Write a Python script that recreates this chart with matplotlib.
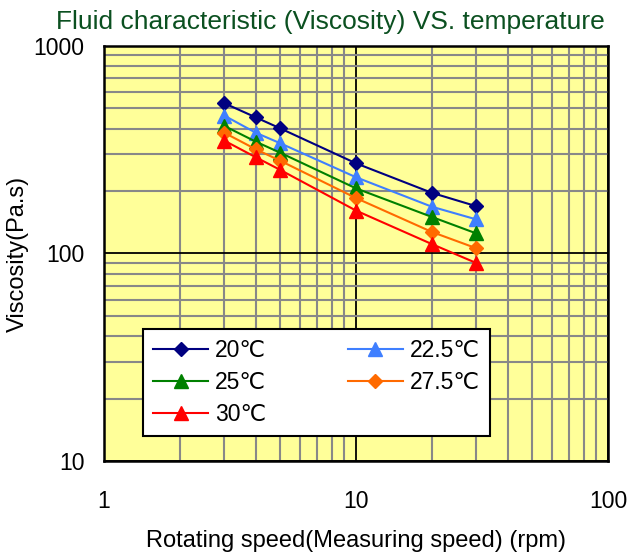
import numpy as np
import matplotlib.pyplot as plt
from matplotlib.ticker import LogLocator, NullFormatter, FixedLocator

plt.rcParams['font.family'] = ['Liberation Sans', 'DejaVu Sans']

# rotating speed (rpm)
speed = [3, 4, 5, 10, 20, 30]

# viscosity (Pa.s) per temperature
visc_20 = [530, 453, 401, 272, 196, 169]
visc_225 = [462, 382, 340, 233, 168, 146]
visc_25 = [412, 346, 306, 206, 150, 125]
visc_275 = [382, 318, 280, 185, 127, 106]
visc_30 = [350, 291, 253, 161, 111, 90]

labels = ['20℃', '22.5℃', '25℃', '27.5℃', '30℃']
series = [visc_20, visc_225, visc_25, visc_275, visc_30]
colors = ['#000080', '#3F7FFF', '#008000', '#FF6A00', '#FF0000']
markers = ['D', '^', '^', 'D', '^']

fig = plt.figure(figsize=(6.29, 5.56), dpi=100)
ax = fig.add_axes([0.1653, 0.1709, 0.8013, 0.7464])
ax.set_facecolor('#FFFF99')

lines = []
for vals, lab, c, m in zip(series, labels, colors, markers):
    ms = 7.5 if m == 'D' else 9.5
    ln, = ax.plot(speed, vals, color=c, marker=m, markersize=ms, linewidth=1.5,
                  label=lab, zorder=3)
    lines.append(ln)

ax.set_xscale('log')
ax.set_yscale('log')
ax.set_xlim(1, 100)
ax.set_ylim(10, 1000)

ax.xaxis.set_major_locator(FixedLocator([1, 10, 100]))
ax.yaxis.set_major_locator(FixedLocator([10, 100, 1000]))
ax.set_xticklabels(['1', '10', '100'])
ax.set_yticklabels(['10', '100', '1000'])
ax.xaxis.set_minor_locator(LogLocator(base=10, subs=np.arange(2, 10)))
ax.yaxis.set_minor_locator(LogLocator(base=10, subs=np.arange(2, 10)))
ax.xaxis.set_minor_formatter(NullFormatter())
ax.yaxis.set_minor_formatter(NullFormatter())

ax.grid(which='minor', color='#888888', linewidth=1.5, zorder=1)
ax.grid(which='major', color='black', linewidth=1.3, zorder=1)
ax.set_axisbelow(True)
ax.tick_params(which='both', length=0, labelsize=16.5)
ax.tick_params(axis='x', pad=21)
ax.tick_params(axis='y', pad=14)
for s in ax.spines.values():
    s.set_linewidth(1.8)

ax.set_title('Fluid characteristic (Viscosity) VS. temperature',
             color='#0B5020', fontsize=19, pad=12, x=0.45)
ax.set_xlabel('Rotating speed(Measuring speed) (rpm)', fontsize=17, labelpad=12)
ax.set_ylabel('Viscosity(Pa.s)', fontsize=17, labelpad=3)

# row-major order in the legend: 20, 22.5 / 25, 27.5 / 30
order = [0, 2, 4, 1, 3]
leg = ax.legend([lines[i] for i in order], [labels[i] for i in order],
                ncol=2, loc='lower left', bbox_to_anchor=(0.077, 0.060, 0.689, 0.25),
                mode='expand', fontsize=16.5, frameon=True, fancybox=False,
                edgecolor='black', framealpha=1, handlelength=2.4,
                borderpad=0.45, labelspacing=0.38, handletextpad=0.3,
                borderaxespad=0)
leg.get_frame().set_linewidth(1.5)

fig.savefig('out.png', dpi=100)
